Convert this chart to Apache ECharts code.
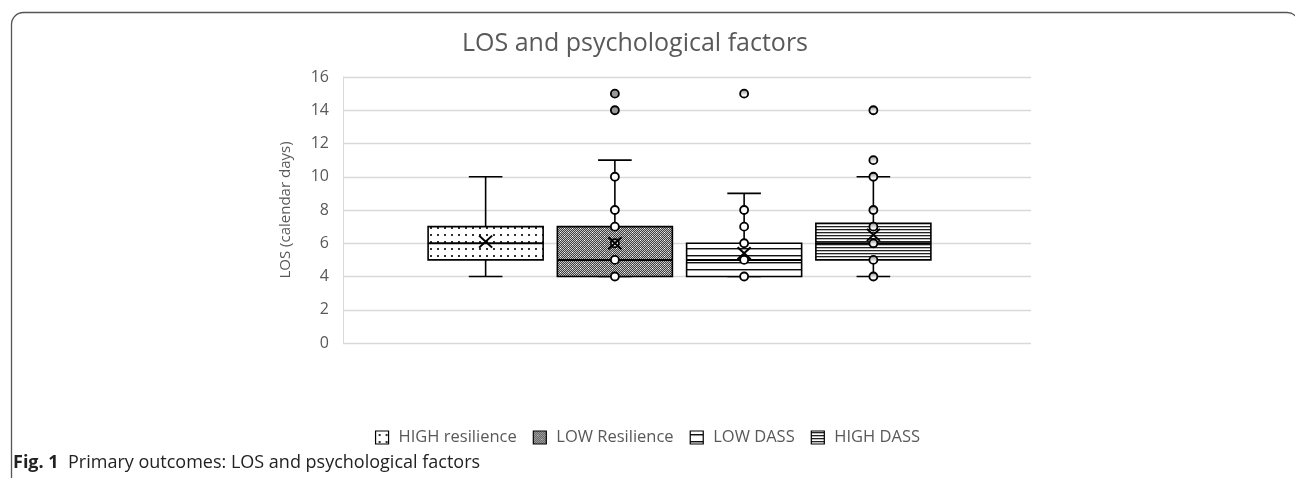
<!DOCTYPE html>
<html lang="en" style="height: 100%">
<head>
  <meta charset="utf-8">
</head>
<body style="height: 100%; margin: 0; background: #fff">
  <div id="container" style="width: 1295px; height: 478px"></div>
  <script type="text/javascript" src="https://cdn.jsdelivr.net/npm/echarts@6/dist/echarts.min.js"></script>
  <script type="text/javascript">
    // groups, in the order they are drawn
    var groups = ['HIGH resilience', 'LOW Resilience', 'LOW DASS', 'HIGH DASS'];
    // [min, Q1, median, Q3, max] per group (LOS, calendar days)
    var boxStats = [
        [4, 5, 6, 7, 10],
        [4, 4, 5, 7, 11],
        [4, 4, 5, 6, 9],
        [4, 5, 6, 7.2, 10]
    ];
    var means = [6.1, 6.0, 5.4, 6.5];
    var innerPoints = [
        [],
        [4, 5, 6, 7, 8, 10],
        [4, 5, 6, 7, 8],
        [4, 5, 6, 7, 8, 10]
    ];
    var outliers = [
        [],
        [14, 15],
        [15],
        [11, 14]
    ];
    var yTicks = [0, 2, 4, 6, 8, 10, 12, 14, 16];

    var myChart = echarts.init(document.getElementById('container'));

    // fill patterns like the Excel ones
    function makePattern(w, h, draw) {
        var c = document.createElement('canvas');
        c.width = w;
        c.height = h;
        var ctx = c.getContext('2d');
        ctx.fillStyle = '#fff';
        ctx.fillRect(0, 0, w, h);
        draw(ctx);
        return {image: c, repeat: 'repeat'};
    }

    var patterns = [
        makePattern(7, 7, function(ctx) {
            ctx.fillStyle = '#333';
            ctx.fillRect(3, 3, 2, 2);
        }),
        makePattern(8, 8, function(ctx) {
            for (var y = 0; y < 8; y++) {
                for (var x = 0; x < 8; x++) {
                    ctx.fillStyle = (x + y) % 2 ? '#404040' : '#c4c4c4';
                    ctx.fillRect(x, y, 1, 1);
                }
            }
            ctx.fillStyle = '#fff';
            ctx.fillRect(4, 4, 1, 1);
            ctx.fillRect(0, 0, 1, 1);
        }),
        makePattern(4, 7, function(ctx) {
            ctx.fillStyle = '#111';
            ctx.fillRect(0, 3, 4, 1);
            ctx.fillStyle = '#999';
            ctx.fillRect(0, 4, 4, 1);
        }),
        makePattern(4, 3, function(ctx) {
            ctx.fillStyle = '#222';
            ctx.fillRect(0, 1, 4, 1);
            ctx.fillStyle = '#bbb';
            ctx.fillRect(0, 2, 4, 1);
        })
    ];

    function renderBox(params, api) {
        var i = api.value(0);
        var lo = api.coord([i, api.value(1)]);
        var q1 = api.coord([i, api.value(2)]);
        var md = api.coord([i, api.value(3)]);
        var q3 = api.coord([i, api.value(4)]);
        var hi = api.coord([i, api.value(5)]);
        var band = api.size([1, 0])[0];
        var hw = band * 0.445;
        var cw = band * 0.13;
        var cx = lo[0];
        var ls = {stroke: '#000', lineWidth: 1.6};
        return {
            type: 'group',
            children: [
                {type: 'line', shape: {x1: cx, y1: hi[1], x2: cx, y2: q3[1]}, style: ls},
                {type: 'line', shape: {x1: cx, y1: lo[1], x2: cx, y2: q1[1]}, style: ls},
                {type: 'line', shape: {x1: cx - cw, y1: hi[1], x2: cx + cw, y2: hi[1]}, style: ls},
                {type: 'line', shape: {x1: cx - cw, y1: lo[1], x2: cx + cw, y2: lo[1]}, style: ls},
                {
                    type: 'rect',
                    shape: {x: cx - hw, y: q3[1], width: hw * 2, height: q1[1] - q3[1]},
                    style: {fill: patterns[i], stroke: '#000', lineWidth: 1.6}
                },
                {type: 'line', shape: {x1: cx - hw, y1: md[1], x2: cx + hw, y2: md[1]}, style: {stroke: '#000', lineWidth: 2}}
            ]
        };
    }

    var series = [];
    groups.forEach(function(name, i) {
        series.push({
            name: name,
            type: 'custom',
            xAxisIndex: 1,
            yAxisIndex: 1,
            renderItem: renderBox,
            encode: {x: 0, y: [1, 2, 3, 4, 5]},
            itemStyle: {color: patterns[i]},
            data: [[i].concat(boxStats[i])],
            z: 2
        });
    });

    var pointData = [];
    var outlierData = [];
    groups.forEach(function(name, i) {
        innerPoints[i].forEach(function(v) {
            pointData.push({
                value: [i, v],
                itemStyle: {color: i === 3 ? patterns[3] : '#fff'}
            });
        });
        outliers[i].forEach(function(v) {
            outlierData.push({value: [i, v], itemStyle: {color: i === 1 ? '#999' : patterns[3]}});
        });
    });

    series.push({
        name: 'points',
        type: 'scatter',
        xAxisIndex: 1,
        yAxisIndex: 1,
        symbol: 'circle',
        symbolSize: 8,
        itemStyle: {borderColor: '#000', borderWidth: 1.8, opacity: 1},
        data: pointData,
        z: 3
    });
    series.push({
        name: 'outliers',
        type: 'scatter',
        xAxisIndex: 1,
        yAxisIndex: 1,
        symbol: 'circle',
        symbolSize: 8,
        itemStyle: {borderColor: '#000', borderWidth: 1.8, opacity: 1},
        data: outlierData,
        z: 3
    });
    series.push({
        name: 'mean',
        type: 'scatter',
        xAxisIndex: 1,
        yAxisIndex: 1,
        symbol: 'path://M0 0L10 10M10 0L0 10',
        symbolSize: [13, 12],
        itemStyle: {color: 'none', borderColor: '#000', borderWidth: 2, opacity: 1},
        data: means.map(function(m, i) { return [i, m]; }),
        z: 4
    });

    var option = {
        animation: false,
        backgroundColor: '#fff',
        textStyle: {fontFamily: 'Open Sans'},
        grid: [
            {left: 343, right: 264, top: 77, bottom: 135},
            {left: 421, right: 357, top: 77, bottom: 135}
        ],
        xAxis: [
            {type: 'category', gridIndex: 0, data: [''], show: false},
            {type: 'category', gridIndex: 1, data: groups, show: false}
        ],
        yAxis: [
            {
                type: 'value',
                gridIndex: 0,
                min: yTicks[0],
                max: yTicks[yTicks.length - 1],
                interval: 2,
                name: 'LOS (calendar days)',
                nameLocation: 'middle',
                nameRotate: 90,
                nameGap: 50,
                nameTextStyle: {color: '#595959', fontSize: 15, fontFamily: 'Open Sans'},
                axisLine: {show: true, lineStyle: {color: '#d9d9d9', width: 1}},
                axisTick: {show: false},
                axisLabel: {color: '#595959', fontSize: 16, margin: 14, fontFamily: 'Open Sans'},
                splitLine: {lineStyle: {color: '#d9d9d9', width: 1.3}}
            },
            {
                type: 'value',
                gridIndex: 1,
                min: yTicks[0],
                max: yTicks[yTicks.length - 1],
                interval: 2,
                show: false,
                splitLine: {show: false}
            }
        ],
        legend: {
            left: 'center',
            top: 424,
            icon: 'rect',
            itemWidth: 13,
            itemHeight: 13,
            itemGap: 16,
            textStyle: {color: '#595959', fontSize: 16.5, fontFamily: 'Open Sans', padding: [0, 0, 0, 5]},
            data: groups.map(function(g, i) {
                return {name: g, itemStyle: {color: patterns[i], borderColor: '#000', borderWidth: 1.2}};
            })
        },
        graphic: [
            {
                type: 'rect',
                silent: true,
                shape: {x: 11.5, y: 12.5, width: 1287.5, height: 520, r: [12, 12, 0, 0]},
                style: {fill: 'none', stroke: '#555', lineWidth: 1.3}
            },
            {
                type: 'text',
                x: 635,
                y: 44,
                style: {
                    text: 'LOS and psychological factors',
                    fill: '#595959',
                    font: '25px "Open Sans"',
                    align: 'center',
                    verticalAlign: 'middle'
                }
            },
            {
                type: 'text',
                x: 13,
                y: 463,
                style: {
                    text: '{b|Fig. 1}  Primary outcomes: LOS and psychological factors',
                    fill: '#222',
                    font: '18px "Open Sans"',
                    verticalAlign: 'middle',
                    rich: {b: {fontWeight: 'bold', fontSize: 18, fontFamily: 'Open Sans', fill: '#222'}}
                }
            }
        ],
        series: series
    };

    myChart.setOption(option);
  </script>
</body>
</html>
